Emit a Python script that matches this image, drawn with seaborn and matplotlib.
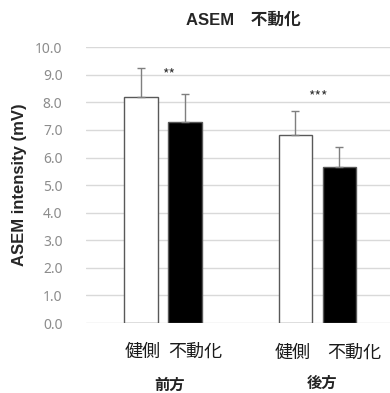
import matplotlib
matplotlib.use("Agg")
import matplotlib.pyplot as plt
import seaborn as sns
import pandas as pd
import numpy as np

groups = ["前方", "後方"]
conditions = ["健側", "不動化"]
means = [8.2, 7.3, 6.8, 5.65]
sds = [1.05, 1.0, 0.87, 0.72]
sig_labels = ["**", "***"]
yticks = [0, 1, 2, 3, 4, 5, 6, 7, 8, 9, 10]

sns.set_theme(style="white")
plt.rcParams['font.family'] = ['Noto Sans CJK JP', 'DejaVu Sans']

df = pd.DataFrame({
    "group": [g for g in groups for _ in conditions],
    "cond": [c for _ in groups for c in conditions],
    "value": means,
})

fig = plt.figure(figsize=(3.9, 3.93), dpi=100)
ax = fig.add_axes([0.2205, 0.178, 0.7795, 0.702])

sns.barplot(data=df, x="group", y="value", hue="cond", hue_order=conditions,
            order=groups, palette=["white", "black"], width=0.57, gap=0.23,
            errorbar=None, edgecolor="#595959", linewidth=1.0, legend=False,
            ax=ax, zorder=3)

# error bars (upper only)
patches = sorted(ax.patches, key=lambda p: p.get_x())
for p, m, s in zip(patches, means, sds):
    xc = p.get_x() + p.get_width() / 2
    ax.errorbar(xc, m, yerr=[[0], [s]], fmt="none", ecolor="#7f7f7f",
                elinewidth=1.0, capsize=3, capthick=1.0, zorder=4)

ax.set_ylim(0, 10)
ax.set_xlim(-0.5, 1.47)
ax.set_yticks(yticks)
ax.set_yticklabels([f"{v:.1f}" for v in yticks], color="#8c8c8c", fontsize=10,
                   family=["Noto Sans", "DejaVu Sans"])
ax.yaxis.grid(True, color="#d9d9d9", linewidth=1.0, zorder=0)
ax.set_axisbelow(True)
for sp in ax.spines.values():
    sp.set_visible(False)
ax.tick_params(axis="y", length=0, pad=17)
ax.tick_params(axis="x", length=0)
ax.set_xticks([])
ax.set_xlabel("")
ax.set_ylabel("ASEM intensity (mV)", fontsize=12, fontweight="bold",
              family=["Liberation Sans", "Noto Sans CJK JP"], labelpad=6)

# significance markers
ax.text(0.035, 9.0, sig_labels[0], ha="center", va="center", fontsize=10, color="#333333")
ax.text(1.0, 8.2, sig_labels[1], ha="center", va="center", fontsize=10, color="#333333")

# category labels
trans = ax.get_xaxis_transform()
cat_x = [-0.13, 0.21, 0.84, 1.24]
cat_y = [-0.105, -0.105, -0.108, -0.108]
for x, y, lab in zip(cat_x, cat_y, [c for _ in groups for c in conditions]):
    ax.text(x, y, lab, ha="center", va="center", fontsize=13, color="#1a1a1a",
            transform=trans)
grp_x = [0.04, 1.03]
grp_y = [-0.225, -0.215]
for x, y, lab in zip(grp_x, grp_y, groups):
    ax.text(x, y, lab, ha="center", va="center", fontsize=11, fontweight="bold",
            color="#222222", transform=trans)

fig.text(0.625, 0.948, "ASEM　不動化", ha="center", va="center", fontsize=12,
         fontweight="bold", family=["Liberation Sans", "Noto Sans CJK JP"])

fig.savefig("out.png", dpi=100)
